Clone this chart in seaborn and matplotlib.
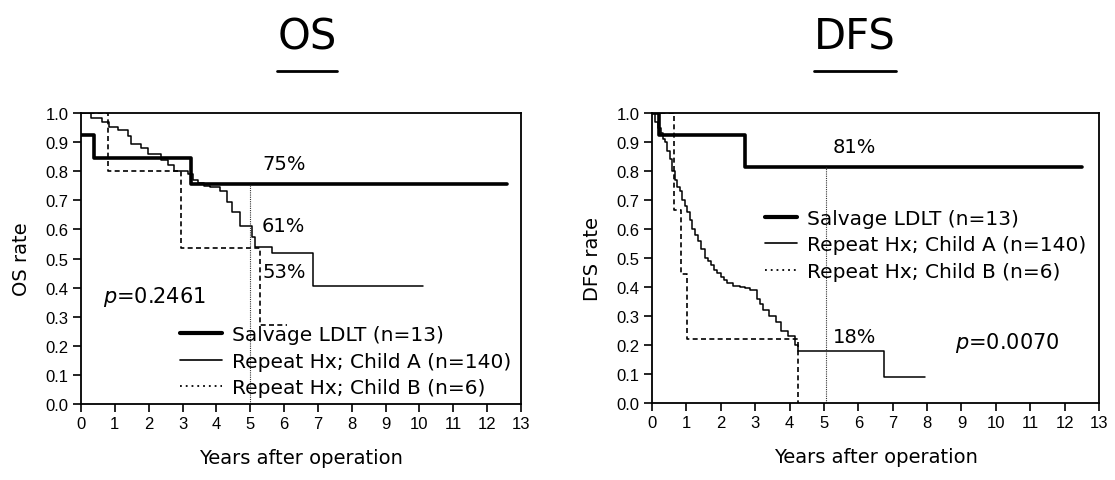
import numpy as np
import pandas as pd
import matplotlib
matplotlib.use("Agg")
import matplotlib.pyplot as plt
from matplotlib.lines import Line2D
import seaborn as sns

# ---------------- data ----------------
groups = ["Salvage LDLT (n=13)", "Repeat Hx; Child A (n=140)", "Repeat Hx; Child B (n=6)"]

# Overall survival
os_salv_t = [0, 0.38, 3.25, 12.6]
os_salv_s = [0.923, 0.846, 0.756, 0.756]
os_a_t = [0, 0.3, 0.62, 0.83, 1.1, 1.38, 1.48, 1.78, 1.98, 2.37, 2.57, 2.75, 3.16, 3.3,
          3.46, 3.64, 3.81, 4.1, 4.31, 4.46, 4.7, 5.05, 5.15, 5.64, 6.85, 10.1]
os_a_s = [1.0, 0.983, 0.97, 0.952, 0.94, 0.92, 0.895, 0.88, 0.86, 0.84, 0.82, 0.80, 0.79, 0.77,
          0.76, 0.75, 0.744, 0.733, 0.694, 0.66, 0.612, 0.575, 0.54, 0.52, 0.406, 0.406]
os_b_t = [0, 0.8, 2.95, 5.29, 6.1]
os_b_s = [1.0, 0.80, 0.536, 0.27, 0.27]

# Disease-free survival
dfs_salv_t = [0, 0.2, 2.7, 12.5]
dfs_salv_s = [1.0, 0.923, 0.815, 0.815]
dfs_a_t = [0, 0.1, 0.17, 0.25, 0.32, 0.38, 0.45, 0.52, 0.58, 0.66, 0.74, 0.8, 0.87, 0.95, 1.02,
           1.1, 1.16, 1.25, 1.33, 1.42, 1.54, 1.62, 1.72, 1.8, 1.89, 2.0, 2.1, 2.18, 2.35, 2.56,
           2.7, 2.85, 3.05, 3.15, 3.23, 3.4, 3.6, 3.75, 3.95, 4.16, 4.24, 6.74, 7.94]
dfs_a_s = [1.0, 0.97, 0.95, 0.93, 0.91, 0.90, 0.87, 0.84, 0.80, 0.77, 0.745, 0.73, 0.70, 0.68, 0.66,
           0.63, 0.60, 0.58, 0.56, 0.53, 0.50, 0.49, 0.475, 0.46, 0.45, 0.435, 0.425, 0.415, 0.405, 0.40,
           0.395, 0.39, 0.36, 0.34, 0.32, 0.30, 0.28, 0.25, 0.23, 0.20, 0.18, 0.09, 0.09]
dfs_b_t = [0, 0.64, 0.84, 1.02, 4.24]
dfs_b_s = [1.0, 0.667, 0.444, 0.222, 0.0]

# 5-year landmark lines: (year, top value)
os_landmark = [5.0, 0.756]
dfs_landmark = [5.07, 0.815]

os_pct_labels = ["75%", "61%", "53%"]
dfs_pct_labels = ["81%", "18%"]
os_p = "0.2461"
dfs_p = "0.0070"

x_ticks = list(range(0, 14))
y_ticks = [round(0.1 * i, 1) for i in range(11)]

# ---------------- style ----------------
sns.set_style("ticks")
plt.rcParams["font.family"] = ["DejaVu Sans"]
plt.rcParams.update({"text.color": "black", "axes.labelcolor": "black",
                     "xtick.color": "black", "ytick.color": "black",
                     "axes.edgecolor": "black"})
TICKFONT = "Liberation Sans"

fig = plt.figure(figsize=(11.15, 4.81), dpi=100)
ax1 = fig.add_axes([81 / 1115, 1 - 405 / 481, 440 / 1115, 291 / 481])
ax2 = fig.add_axes([652 / 1115, 1 - 404 / 481, 447 / 1115, 290 / 481])

styles = [dict(lw=2.6, ls="-"), dict(lw=1.1, ls="-"), dict(lw=1.2, ls=(0, (3, 2)))]
leg_styles = [dict(lw=3.0, ls="-"), dict(lw=1.2, ls="-"), dict(lw=1.3, ls=(0, (1, 2.2)))]


def draw(ax, series, landmark, ylabel):
    for (t, s), st in zip(series, styles):
        df = pd.DataFrame({"t": t, "s": s})
        sns.lineplot(data=df, x="t", y="s", ax=ax, estimator=None, sort=False,
                     drawstyle="steps-post", color="black", linewidth=st["lw"],
                     linestyle=st["ls"], legend=False)
    ax.vlines(landmark[0], 0, landmark[1], colors="#333333", linewidth=0.8,
              linestyles=(0, (1, 1)))
    ax.set_xlim(0, 13)
    ax.set_ylim(0, 1.0)
    ax.set_xticks(x_ticks)
    ax.set_yticks(y_ticks)
    ax.set_yticklabels([f"{v:.1f}" for v in y_ticks], fontfamily=TICKFONT, fontsize=12)
    ax.set_xticklabels([str(v) for v in x_ticks], fontfamily=TICKFONT, fontsize=12)
    ax.tick_params(direction="out", length=6, width=1.2, color="black", pad=3)
    for sp in ax.spines.values():
        sp.set_linewidth(1.3)
        sp.set_color("black")
    ax.set_xlabel("Years after operation", fontsize=14, labelpad=12)
    ax.set_ylabel(ylabel, fontsize=14, labelpad=10)


draw(ax1, [(os_salv_t, os_salv_s), (os_a_t, os_a_s), (os_b_t, os_b_s)], os_landmark, "OS rate")
draw(ax2, [(dfs_salv_t, dfs_salv_s), (dfs_a_t, dfs_a_s), (dfs_b_t, dfs_b_s)], dfs_landmark, "DFS rate")

# annotations
ax1.text(5.35, 0.825, os_pct_labels[0], fontsize=14, ha="left", va="center")
ax1.text(5.35, 0.612, os_pct_labels[1], fontsize=14, ha="left", va="center")
ax1.text(5.35, 0.457, os_pct_labels[2], fontsize=14, ha="left", va="center")
ax1.text(0.65, 0.371, r"$p$=" + os_p, fontsize=15, ha="left", va="center")
ax2.text(5.26, 0.886, dfs_pct_labels[0], fontsize=14, ha="left", va="center")
ax2.text(5.26, 0.228, dfs_pct_labels[1], fontsize=14, ha="left", va="center")
ax2.text(8.8, 0.21, r"$p$=" + dfs_p, fontsize=15, ha="left", va="center")


# legends
def legend(ax, anchor, hlen):
    handles = [Line2D([], [], color="black", linewidth=st["lw"], linestyle=st["ls"])
               for st in leg_styles]
    ax.legend(handles, groups, loc="upper left", bbox_to_anchor=anchor, frameon=False,
              borderpad=0, borderaxespad=0, handlelength=hlen, handletextpad=0.5,
              labelspacing=0.38, fontsize=14.5)


legend(ax1, (0.225, 0.271), 2.1)
legend(ax2, (0.253, 0.67), 1.6)

# titles with underline
titles = [("OS", 307 / 1115), ("DFS", 855 / 1115)]
fig.canvas.draw()
for label, xc in titles:
    t = fig.text(xc, 1 - 38 / 481, label, fontsize=30, ha="center", va="center")
    fig.canvas.draw()
    bb = t.get_window_extent().transformed(fig.transFigure.inverted())
    fig.add_artist(Line2D([bb.x0, bb.x1], [1 - 72 / 481] * 2, color="black",
                          linewidth=2.0, transform=fig.transFigure))

fig.savefig("out.png", dpi=100)
